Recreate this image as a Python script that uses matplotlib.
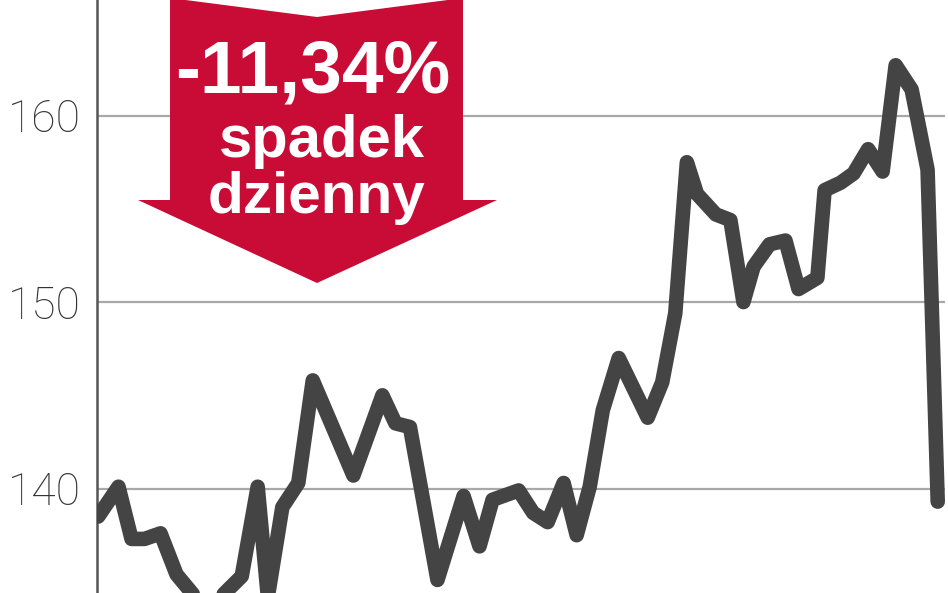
import matplotlib.pyplot as plt
from matplotlib.patches import Polygon

# price series (session index, close)
days = [0.0, 1.4, 2.3, 3.2, 4.3, 5.4, 7.0, 8.6, 9.9, 11.0, 11.7, 12.7, 13.8,
        14.8, 17.6, 19.6, 20.5, 21.5, 23.4, 25.2, 26.3, 27.2, 29.0, 30.0,
        31.0, 32.1, 33.0, 33.9, 34.8, 35.9, 37.9, 38.9, 39.8, 40.6, 41.3,
        42.6, 43.6, 44.5, 45.2, 46.3, 47.4, 48.3, 49.6, 50.1, 51.2, 52.1,
        53.1, 54.1, 55.0, 56.1, 57.2, 57.9]
close = [138.5, 140.1, 137.3, 137.3, 137.6, 135.4, 133.9, 134.3, 135.3, 140.1,
         134.2, 139.0, 140.3, 145.8, 140.7, 145.0, 143.5, 143.3, 135.1, 139.6,
         136.9, 139.4, 139.9, 138.7, 138.2, 140.3, 137.5, 140.1, 144.2, 147.0,
         143.8, 145.7, 149.4, 157.5, 155.8, 154.7, 154.4, 150.0, 151.9, 153.1,
         153.3, 150.7, 151.3, 156.0, 156.4, 156.9, 158.2, 157.0, 162.7, 161.4,
         157.1, 139.3]
yticks = [140, 150, 160]

change_text = "-11,34%"
caption = ["spadek", "dzienny"]

red = '#c90c35'
line_col = '#444444'

fig = plt.figure(figsize=(9.48, 5.93), dpi=100)
ax = fig.add_axes([0.1028, 0.0, 0.894, 1.0])

ax.plot(days, close, color=line_col, lw=10.5, solid_capstyle='round',
        solid_joinstyle='round', zorder=3)

ax.set_xlim(-0.05, 58.4)
ax.set_ylim(134.4, 166.2)
ax.set_yticks(yticks)
ax.set_yticklabels([str(v) for v in yticks], fontsize=32, color='#333333',
                   family=['Roboto', 'DejaVu Sans'], fontweight='light')
ax.tick_params(axis='y', length=0, pad=12)
ax.set_xticks([])
ax.grid(axis='y', color='#a8a8a8', lw=1.6, zorder=1)
for s in ['top', 'right', 'bottom']:
    ax.spines[s].set_visible(False)
ax.spines['left'].set_color('#555555')
ax.spines['left'].set_linewidth(1.8)

# red down arrow with the daily drop
W, H = 948.0, 593.0
pts = [(170, -2), (317, 17), (463, -2), (463, 200), (497, 200), (317, 283),
       (138, 200), (170, 200)]
arrow = Polygon([(x / W, 1 - y / H) for x, y in pts], closed=True,
                transform=fig.transFigure, facecolor=red, edgecolor='none',
                zorder=5)
fig.patches.append(arrow)

fam = ['Liberation Sans', 'DejaVu Sans']
fig.text(313 / W, 1 - 93 / H, change_text, color='white', fontsize=54,
         fontweight='bold', family=fam, ha='center', va='baseline', zorder=6)
fig.text(322 / W, 1 - 157 / H, caption[0], color='white', fontsize=43,
         fontweight='bold', family=fam, ha='center', va='baseline', zorder=6)
fig.text(316 / W, 1 - 213 / H, caption[1], color='white', fontsize=42,
         fontweight='bold', family=fam, ha='center', va='baseline', zorder=6)

fig.savefig('out.png', dpi=100)
